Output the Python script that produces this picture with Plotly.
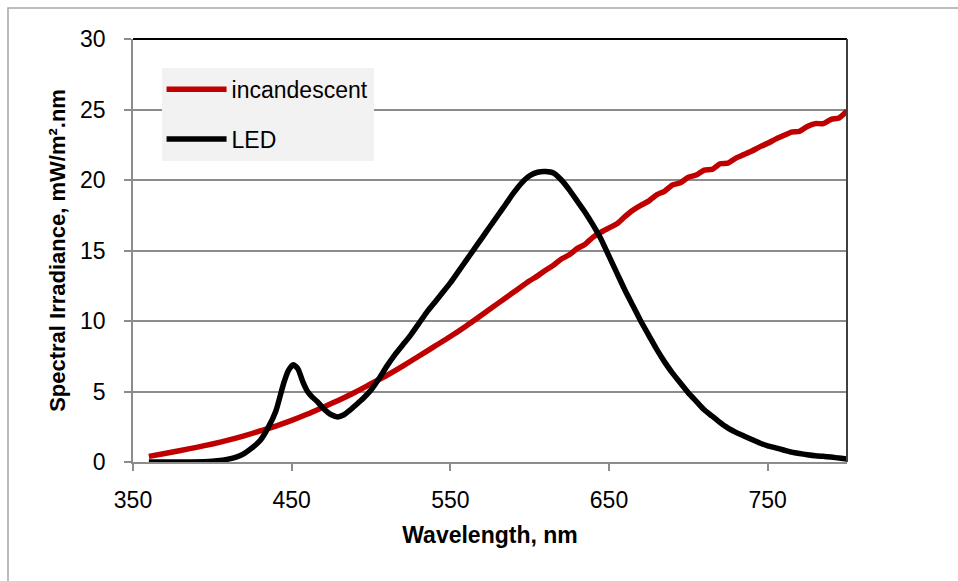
import plotly.graph_objects as go

# ---- data ----
inc_nm = [360, 370, 380, 390, 400, 410, 420, 430, 440, 450, 460, 470, 480, 490,
          500, 510, 520, 530, 540, 550, 560, 570, 580, 590, 600, 605, 610, 615,
          620, 625, 630, 635, 640, 645, 650, 655, 660, 665, 670, 675, 680, 685,
          690, 695, 700, 705, 710, 715, 720, 725, 730, 735, 740, 745, 750, 755,
          760, 765, 770, 775, 780, 785, 790, 795, 800]
inc_val = [0.40, 0.60, 0.82, 1.04, 1.28, 1.55, 1.85, 2.20, 2.55, 2.95, 3.40, 3.90, 4.40, 4.95,
           5.55, 6.15, 6.80, 7.50, 8.20, 8.90, 9.65, 10.45, 11.25, 12.05, 12.85, 13.2, 13.6, 13.95,
           14.4, 14.7, 15.15, 15.45, 15.95, 16.3, 16.6, 16.9, 17.4, 17.85, 18.2, 18.5, 18.95, 19.2,
           19.65, 19.8, 20.2, 20.35, 20.7, 20.75, 21.15, 21.2, 21.55, 21.8, 22.05, 22.35, 22.6, 22.9,
           23.15, 23.4, 23.45, 23.8, 24.0, 24.0, 24.3, 24.4, 24.9]

led_nm = [360, 380, 395, 400, 405, 410, 415, 420, 425, 430, 435, 440, 445, 448, 451,
          454, 457, 460, 463, 466, 470, 475, 479, 483, 487, 491, 495, 500, 505, 510,
          515, 520, 525, 530, 535, 540, 545, 550, 555, 560, 565, 570, 575, 580, 585,
          590, 595, 600, 605, 610, 615, 620, 625, 630, 635, 640, 645, 650, 655, 660,
          665, 670, 675, 680, 685, 690, 695, 700, 705, 710, 715, 720, 725, 730, 735,
          740, 745, 750, 755, 760, 765, 770, 775, 780, 785, 790, 795, 800]
led_val = [0.0, 0.0, 0.02, 0.05, 0.1, 0.2, 0.35, 0.6, 1.0, 1.5, 2.4, 3.6, 5.6, 6.5, 6.9,
           6.6, 5.7, 5.0, 4.6, 4.3, 3.8, 3.35, 3.2, 3.35, 3.7, 4.1, 4.5, 5.1, 5.9, 6.8,
           7.6, 8.3, 9.0, 9.8, 10.6, 11.3, 12.0, 12.7, 13.5, 14.3, 15.1, 15.9, 16.7, 17.5, 18.3,
           19.1, 19.8, 20.3, 20.55, 20.6, 20.5, 20.0, 19.3, 18.5, 17.7, 16.8, 15.8, 14.6, 13.4, 12.2,
           11.1, 10.0, 9.0, 8.0, 7.1, 6.3, 5.6, 4.9, 4.3, 3.7, 3.25, 2.8, 2.4, 2.1, 1.85,
           1.6, 1.35, 1.15, 1.0, 0.85, 0.7, 0.6, 0.52, 0.45, 0.4, 0.35, 0.28, 0.22]

x_ticks = [350, 450, 550, 650, 750]
y_ticks = [0, 5, 10, 15, 20, 25, 30]

FONT = "Liberation Sans, Arial, sans-serif"
GRID = "#8c8c8c"

fig = go.Figure()
fig.add_trace(go.Scatter(x=inc_nm, y=inc_val, mode="lines", name="incandescent",
                         legendgroup="a",
                         line=dict(color="#c00000", width=5.5, shape="spline", smoothing=0.6)))
fig.add_trace(go.Scatter(x=led_nm, y=led_val, mode="lines", name="LED",
                         legendgroup="b",
                         line=dict(color="#000000", width=5.5, shape="spline", smoothing=0.6)))

fig.update_layout(
    width=958, height=581,
    margin=dict(l=133, r=111, t=39, b=119),
    paper_bgcolor="white", plot_bgcolor="white",
    font=dict(family=FONT, size=23, color="black"),
    showlegend=True,
    legend=dict(x=0.04, y=0.932, xanchor="left", yanchor="top",
                bgcolor="#f2f2f2", borderwidth=0,
                font=dict(family=FONT, size=23, color="black"),
                traceorder="grouped", tracegroupgap=17, itemwidth=60),
    xaxis=dict(range=[350, 800], tickvals=x_ticks, ticktext=[str(v) for v in x_ticks],
               showgrid=False, zeroline=False,
               showline=True, linecolor=GRID, linewidth=1.5,
               ticks="outside", ticklen=7, tickcolor=GRID, tickwidth=1.5,
               ticklabelstandoff=10,
               tickfont=dict(family=FONT, size=23, color="black"),
               title=dict(text="<b>Wavelength, nm</b>", standoff=15,
                          font=dict(family=FONT, size=23, color="black"))),
    yaxis=dict(range=[0, 30], tickvals=y_ticks, ticktext=[str(v) for v in y_ticks],
               showgrid=True, gridcolor=GRID, gridwidth=1.5, zeroline=False,
               showline=True, linecolor=GRID, linewidth=1.5,
               ticks="outside", ticklen=7, tickcolor=GRID, tickwidth=1.5,
               ticklabelstandoff=14,
               tickfont=dict(family=FONT, size=23, color="black"),
               title=dict(text="<b>Spectral Irradiance, mW/m².nm</b>", standoff=8,
                          font=dict(family=FONT, size=22, color="black"))),
    shapes=[
        # outer chart border
        dict(type="rect", xref="paper", yref="paper",
             x0=(8 - 133) / 714, x1=(975 - 133) / 714,
             y0=(462 - 600) / 423, y1=(462 - 8) / 423,
             line=dict(color="#a6a6a6", width=1.5), layer="below"),
        # plot area top & right border
        dict(type="line", xref="paper", yref="paper", x0=0, x1=1, y0=1, y1=1,
             line=dict(color="black", width=2)),
        dict(type="line", xref="paper", yref="paper", x0=1, x1=1, y0=0, y1=1,
             line=dict(color="#404040", width=2)),
    ],
)

fig.write_html("out.html", config={"displayModeBar": False})
